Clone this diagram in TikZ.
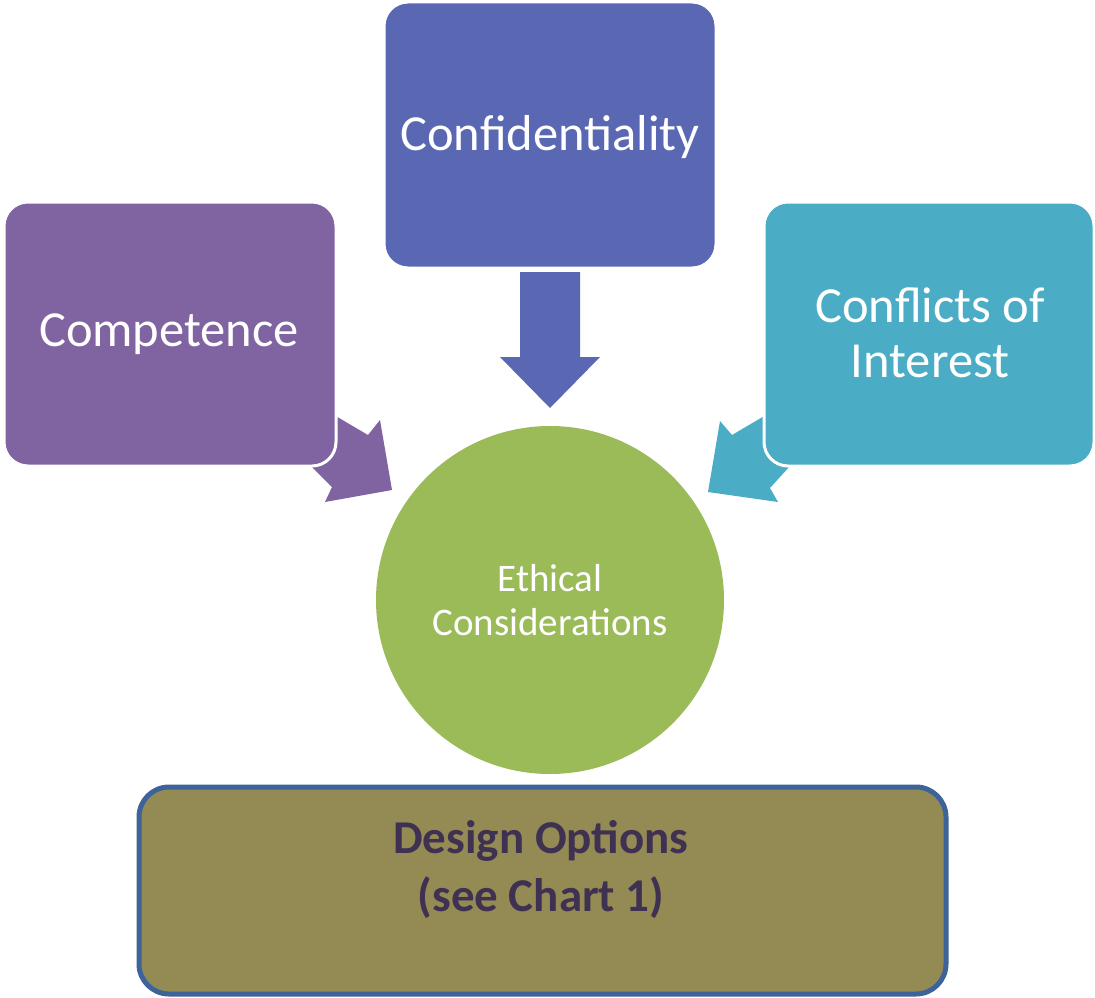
\documentclass[tikz,border=0pt]{standalone}
\usepackage{fontspec}
\setmainfont{Carlito}
\definecolor{compC}{HTML}{8064A2}
\definecolor{confC}{HTML}{5A68B4}
\definecolor{coiC}{HTML}{4BACC6}
\definecolor{ethC}{HTML}{9BBB59}
\definecolor{desC}{HTML}{948A54}
\definecolor{desLine}{HTML}{3E6399}
\definecolor{desText}{HTML}{3F3151}
\begin{document}
\begin{tikzpicture}[x=1pt,y=-1pt,
  topbox/.style={rounded corners=24pt, draw=white, line width=3pt},
  boxtext/.style={text=white, font=\fontsize{50.5}{55}\selectfont, align=center}]
\useasboundingbox (0,0) rectangle (1095,998);
% centre circle
\node[circle, fill=ethC, minimum size=348pt, inner sep=0pt, text=white,
  font=\fontsize{39}{44}\selectfont, align=center] (eth) at (550,600)
  {Ethical\\Considerations};
% side arrows (tails hidden under the boxes)
\fill[compC] (300,395) -- (368,435) -- (380,420) -- (392,490) -- (325,502)
  -- (332,487) -- (300,455) -- cycle;
\fill[coiC] (800,395) -- (732,435) -- (720,421) -- (708,492) -- (778,502)
  -- (770,488) -- (800,455) -- cycle;
% boxes
\draw[topbox, fill=compC] (4,202) rectangle (336,466);
\node[boxtext] (comp) at (169,334) {Competence};
\draw[topbox, fill=confC] (384,2) rectangle (716,268);
\node[boxtext] (conf) at (550,137) {Confidentiality};
\draw[topbox, fill=coiC] (764,202) rectangle (1094,466);
\node[boxtext] (coi) at (930,333) {Conflicts of\\Interest};
% down arrow
\fill[confC] (520,272) -- (580,272) -- (580,357) -- (600,357) -- (550,408)
  -- (500,357) -- (520,357) -- cycle;
% design options box
\draw[rounded corners=30pt, draw=desLine, line width=5pt, fill=desC]
  (139,787) rectangle (946,994);
\node[text=desText, font=\bfseries\fontsize{47}{58}\selectfont, align=center]
  (des) at (541,870) {Design Options\\(see Chart 1)};
\end{tikzpicture}
\end{document}
